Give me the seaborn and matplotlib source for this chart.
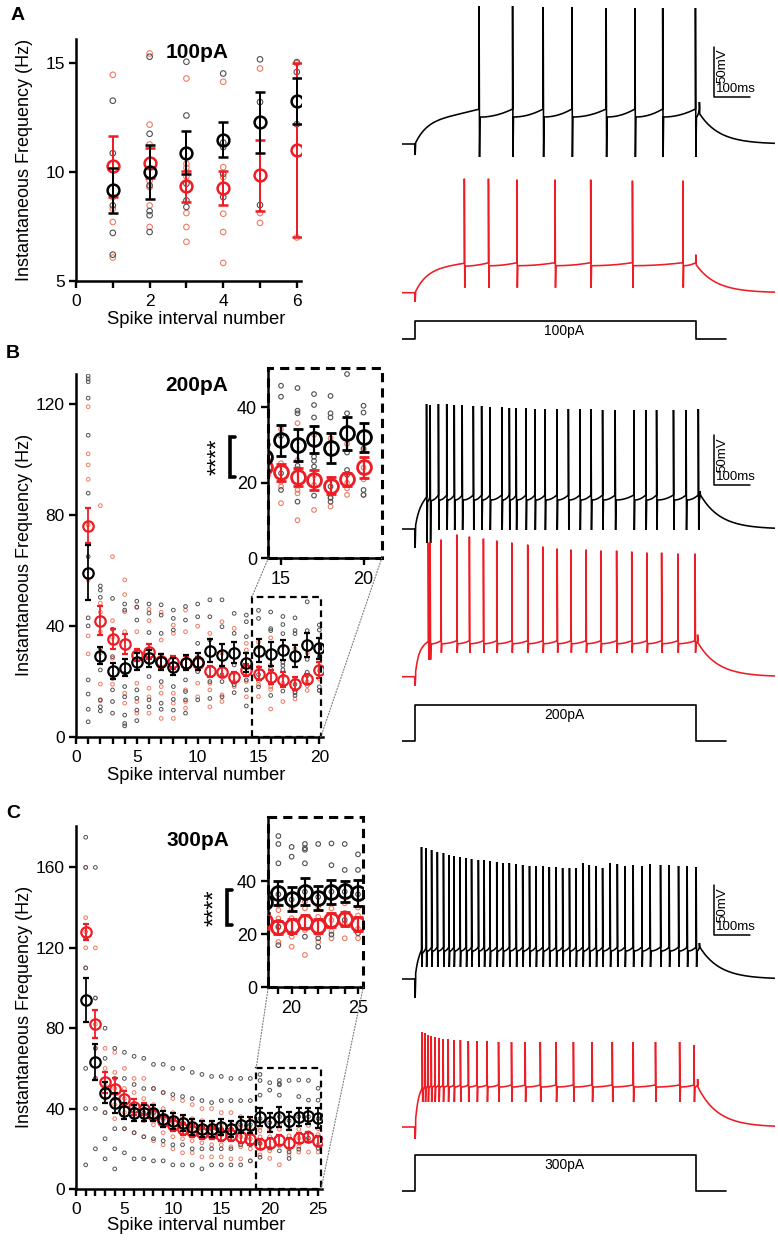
import numpy as np
import pandas as pd
import seaborn as sns
import matplotlib
matplotlib.use('Agg')
from matplotlib import pyplot as plt
from matplotlib.patches import Rectangle, ConnectionPatch
from matplotlib.lines import Line2D
from matplotlib.ticker import MultipleLocator

W, H = 778, 1240
RED = '#ee1c24'
DOT_GRAY = '#505050'
DOT_RED = '#f27a62'

# ---------------- panel A, 100pA ----------------
a_intervals = [1, 2, 3, 4, 5, 6]
a_ctrl_mean = [9.16, 10.0, 10.9, 11.48, 12.29, 13.25]
a_ctrl_sem = [1.03, 1.24, 1.0, 0.8, 1.4, 1.05]
a_ko_mean = [10.26, 10.43, 9.34, 9.28, 9.85, 11.0]
a_ko_sem = [1.42, 0.7, 0.7, 0.77, 1.63, 4.0]
a_ctrl_pts = [[13.28, 10.87, 8.47, 7.21, 6.21],
              [15.3, 11.76, 9.39, 8.21, 8.02, 7.25],
              [15.07, 12.6, 9.47, 8.7, 8.4],
              [14.53, 11.36, 11.15, 9.92, 8.85],
              [15.18, 13.22, 8.49],
              [15.05, 14.6, 12.2]]
a_ko_pts = [[14.47, 8.85, 8.32, 7.71, 6.08],
            [15.45, 12.18, 11.27, 9.6, 9.31, 8.47, 7.48],
            [14.3, 10.38, 10.2, 9.8, 8.12, 7.48, 6.8],
            [14.15, 10.23, 9.77, 8.09, 7.25, 5.83],
            [14.76, 8.12, 7.67],
            [15.0, 7.0]]

# ---------------- panel B, 200pA ----------------
b_intervals = list(range(1, 21))
b_ctrl_mean = [59.3, 29.4, 23.8, 25.0, 27.2, 28.4, 27.0, 25.4, 26.8, 27.2,
               31.2, 29.6, 30.4, 26.8, 31.2, 30.0, 31.5, 29.3, 33.1, 32.0]
b_ctrl_sem = [9.9, 3.2, 2.8, 3.0, 3.0, 3.0, 2.8, 3.0, 2.8, 3.0,
              4.0, 3.8, 3.8, 3.5, 4.2, 4.2, 3.6, 4.0, 4.4, 3.8]
b_ko_mean = [76.3, 42.0, 35.3, 33.5, 29.6, 30.8, 27.4, 27.0, 26.8, 26.6,
             23.8, 23.6, 21.5, 24.2, 22.8, 21.6, 20.7, 19.2, 20.9, 24.1]
b_ko_sem = [6.4, 5.1, 3.7, 3.6, 2.3, 2.8, 2.5, 2.4, 2.3, 2.3,
            2.0, 2.0, 2.0, 2.1, 2.3, 2.4, 2.6, 2.3, 1.8, 2.8]
b_ctrl_pts = [[130.3, 129.2, 128.2, 122.3, 108.9, 88.0, 65.1, 43.0, 40.1, 20.6, 15.5, 10.0, 5.5],
              [54.5, 53.0, 50.4, 32.0, 24.2, 13.4, 10.9, 9.4],
              [50.0, 38.9, 29.0, 21.2, 17.0, 12.8, 8.6],
              [48.0, 45.8, 23.0, 18.2, 14.5, 7.9, 4.9, 4.0],
              [49.0, 46.8, 42.2, 17.0, 14.0, 9.7, 5.9],
              [48.0, 44.7, 37.7, 21.8, 13.4, 10.9],
              [47.7, 44.0, 37.4, 20.0, 12.2, 10.0],
              [45.8, 42.8, 38.6, 18.2, 13.6, 9.7],
              [47.1, 42.2, 20.6, 16.4, 13.4, 8.6],
              [48.0, 43.4, 33.8, 23.6, 13.4],
              [49.5, 43.4, 35.0, 20.0, 13.9],
              [49.5, 39.8, 22.4, 20.0, 14.5],
              [44.6, 37.4, 26.0, 18.8, 16.0],
              [44.0, 41.6, 36.2, 20.6, 17.0, 11.2],
              [45.7, 42.8, 32.4, 22.5, 18.1],
              [45.1, 39.1, 38.4, 24.5, 23.6, 15.0],
              [43.5, 40.6, 37.3, 26.9, 25.8, 24.3, 16.6],
              [43.0, 38.4, 37.3, 19.0, 16.1, 15.0],
              [48.8, 38.4, 28.0, 23.4, 22.1],
              [40.4, 38.6, 29.1, 18.1, 16.8]]
b_ko_pts = [[119.2, 102.2, 98.2, 93.0, 76.5, 56.7, 36.5, 30.0],
            [83.5, 48.3, 45.0, 38.0, 30.3, 19.1, 13.1],
            [65.1, 42.0, 36.0, 28.4, 19.0],
            [56.7, 51.4, 45.2, 38.0, 15.8, 12.2],
            [47.0, 38.0, 19.4, 12.8, 8.6],
            [46.1, 42.0, 17.6, 14.5, 8.6],
            [45.0, 35.0, 18.2, 15.8, 6.7],
            [40.4, 37.4, 15.8, 12.2, 6.7],
            [45.8, 38.0, 17.0, 12.8, 10.4],
            [40.0, 29.0, 19.4, 14.5],
            [37.4, 19.4, 17.0, 10.9],
            [41.6, 30.2, 15.2, 12.8],
            [39.2, 23.0, 20.0, 18.2],
            [33.8, 31.4, 20.0, 14.5],
            [34.2, 25.2, 20.3, 19.0, 14.6],
            [35.8, 26.0, 18.1, 17.2, 10.1],
            [32.7, 22.0, 19.4, 12.8],
            [31.8, 21.0, 15.9, 13.7],
            [30.3, 20.0, 18.5, 16.8],
            [28.7, 24.0, 20.9, 16.8]]

# ---------------- panel C, 300pA ----------------
c_intervals = list(range(1, 26))
c_ctrl_mean = [94, 63, 48, 43, 39, 38, 38, 38, 35, 34, 33, 31, 30, 30, 31, 30, 32, 32,
               35.6, 33.1, 36.0, 33.7, 36.0, 36.2, 35.4]
c_ctrl_sem = [11, 9, 5, 5, 4, 4, 4, 4, 4, 4, 4, 4, 4, 4, 4, 4, 4, 4,
              4.5, 4.5, 5.0, 4.5, 4.5, 4.0, 5.0]
c_ko_mean = [128, 82, 53, 50, 45, 41, 40, 37, 34, 32, 30, 29, 28, 28, 27, 27, 26, 25,
             22.5, 23.0, 24.6, 23.0, 25.3, 25.7, 23.8]
c_ko_sem = [4, 7, 5, 5, 4, 4, 3, 3, 3, 3, 3, 3, 3, 3, 3, 3, 3, 3,
            2.5, 2.5, 2.5, 2.5, 2.5, 2.5, 2.5]
c_ctrl_pts = [[175, 160, 125, 110, 60, 40, 12],
              [160, 95, 70, 55, 40, 20],
              [80, 65, 50, 38, 25, 15],
              [70, 55, 45, 30, 20, 10],
              [68, 55, 42, 30, 18],
              [66, 52, 40, 28, 15],
              [65, 50, 38, 26, 15],
              [62, 50, 38, 25, 14],
              [62, 48, 35, 24, 14],
              [60, 47, 34, 22, 12],
              [60, 46, 33, 22, 12],
              [58, 45, 31, 20, 12],
              [57, 44, 30, 20, 10],
              [56, 43, 30, 20, 12],
              [56, 44, 30, 20, 12],
              [55, 44, 30, 20, 12],
              [55, 44, 32, 22, 12],
              [55, 44, 32, 22, 14],
              [57.0, 54.0, 46.7, 35.0, 22.8, 15.8],
              [52.9, 49.2, 33.0, 20.3],
              [54.0, 52.4, 51.8, 46.7, 36.0, 19.0],
              [54.0, 34.0, 18.4, 15.2],
              [54.2, 46.0, 36.0, 19.8],
              [54.0, 44.2, 36.0, 25.3],
              [50.1, 44.2, 35.0, 20.3]]
c_ko_pts = [[160, 135, 128, 120, 110],
            [120, 95, 82, 70, 55],
            [70, 60, 52, 45, 38],
            [68, 58, 50, 42, 35],
            [60, 50, 45, 38, 30],
            [55, 48, 41, 35, 28],
            [55, 45, 40, 34, 26],
            [50, 42, 37, 32, 24],
            [48, 40, 34, 28, 22],
            [45, 38, 32, 26, 20],
            [44, 36, 30, 25, 18],
            [42, 35, 29, 24, 18],
            [40, 34, 28, 23, 16],
            [40, 33, 28, 22, 16],
            [38, 32, 27, 22, 16],
            [38, 32, 27, 21, 15],
            [36, 31, 26, 21, 15],
            [35, 30, 25, 20, 14],
            [30.9, 29.0, 25.9, 22.5, 17.0],
            [29.7, 26.0, 19.0, 15.2],
            [32.2, 29.7, 21.5, 12.1],
            [30.3, 26.5, 19.8, 17.0],
            [29.7, 25.3, 18.4, 21.0],
            [31.6, 28.0, 18.4, 24.0],
            [30.0, 27.0, 18.4, 22.0]]

# ---------------- example traces (ms, mV) ----------------
a_ctrl_spikes = [178, 271, 356, 436, 531, 611, 688, 779]
a_ctrl_peaks = [68, 68, 67, 67, 66, 66, 66, 66]
a_ko_spikes = [137, 204, 283, 389, 488, 604, 744]
a_ko_peaks = [44, 44, 43, 43, 43, 42, 42]
b_ctrl_spikes = [32, 42, 65, 88, 109, 131, 162, 185, 208, 241, 262, 281, 308, 333,
                 361, 394, 426, 458, 489, 521, 556, 608, 641, 671, 718, 753, 787]
b_ctrl_peaks = [55, 54, 55, 55, 54, 54, 53, 53, 52, 52, 51, 51, 51, 50,
                50, 50, 50, 50, 50, 49, 49, 49, 49, 49, 49, 49, 50]
b_ko_spikes = [37, 42, 72, 116, 151, 190, 227, 269, 313, 355, 395, 433, 475, 516,
               560, 602, 644, 685, 730, 778]
b_ko_peaks = [64, 64, 67, 72, 70, 68, 66, 64, 62, 60, 58, 57, 57, 56, 56, 55, 54, 54, 53, 53]
c_ctrl_spikes = [18, 31, 46, 62, 79, 94, 108, 125, 142, 157, 176, 192, 208, 227, 244,
                 262, 281, 299, 318, 336, 355, 373, 392, 410, 429, 447, 466, 484, 503,
                 521, 542, 562, 583, 606, 630, 653, 682, 706, 732, 756, 781]
c_ctrl_peaks = [62, 61, 59, 57, 56, 54, 53, 52, 51, 50, 49, 49, 48, 47, 46, 46, 45, 44,
                43, 43, 43, 42, 42, 41, 41, 41, 46, 44, 43, 41, 46, 45, 43, 44, 43, 45,
                44, 44, 43, 43, 42]
c_ko_spikes = [20, 28, 36, 45, 55, 66, 78, 92, 108, 126, 148, 172, 200, 232, 268, 306,
               348, 392, 440, 492, 548, 606, 668, 735, 775]
c_ko_peaks = [25, 24, 22, 21, 20, 19, 18, 18, 17, 17, 16, 16, 16, 15, 15, 15,
              15, 15, 15, 15, 15, 15, 15, 15, 12]

stim_labels = ['100pA', '200pA', '300pA']


def px_axes(fig, left, top, right, bottom):
    return fig.add_axes([left / W, 1 - bottom / H, (right - left) / W, (bottom - top) / H])


def style_axes(ax, xticks, yticks, fs=12.5):
    sns.despine(ax=ax)
    for s in ['left', 'bottom']:
        ax.spines[s].set_linewidth(1.8)
        ax.spines[s].set_color('black')
    ax.set_xticks(xticks)
    ax.set_yticks(yticks)
    ax.xaxis.set_minor_locator(MultipleLocator(1))
    ax.tick_params(which='both', direction='out', width=1.7, length=5, color='black',
                   labelsize=fs, labelcolor='black')
    ax.tick_params(axis='x', which='both', pad=4.5)
    ax.tick_params(axis='y', which='both', pad=3)
    ax.set_xlabel('')
    ax.set_ylabel('')


def points_frame(intervals, pts):
    rows = []
    for n, vals in zip(intervals, pts):
        for v in vals:
            rows.append((n, v))
    return pd.DataFrame(rows, columns=['interval', 'freq'])


def freq_plot(ax, intervals, ctrl_m, ctrl_s, ko_m, ko_s, ctrl_pts, ko_pts,
              dot_s, dot_lw, ms, mew, cap):
    ko_df = points_frame(intervals, ko_pts)
    ctrl_df = points_frame(intervals, ctrl_pts)
    sns.scatterplot(data=ko_df, x='interval', y='freq', ax=ax, s=dot_s, marker='o',
                    facecolor='none', edgecolor=DOT_RED, linewidth=dot_lw, zorder=2, legend=False)
    sns.scatterplot(data=ctrl_df, x='interval', y='freq', ax=ax, s=dot_s, marker='o',
                    facecolor='none', edgecolor=DOT_GRAY, linewidth=dot_lw, zorder=2, legend=False)
    ax.errorbar(intervals, ko_m, yerr=ko_s, fmt='o', ms=ms, mfc='none', mec=RED, mew=mew,
                ecolor=RED, elinewidth=mew * 0.8, capsize=cap, capthick=mew * 0.8, zorder=3)
    ax.errorbar(intervals, ctrl_m, yerr=ctrl_s, fmt='o', ms=ms, mfc='none', mec='black', mew=mew,
                ecolor='black', elinewidth=mew * 0.8, capsize=cap, capthick=mew * 0.8, zorder=4)


def trace_xy(spikes, peaks, rest, plateau, ramp, trough, dip, t_off, v_end, bump,
             tau_on=30.0, tau_off=55.0, t_start=-37.0, t_stop=1000.0):
    troughs = np.broadcast_to(np.asarray(trough, dtype=float), (len(spikes),))
    t = [t_start, 0.0, 0.4, 1.8]
    v = [rest, rest, dip, rest]

    def v_on(x):
        return rest + (plateau - rest) * (1 - np.exp(-x / tau_on))

    edges = [1.8] + list(spikes) + [t_off]
    for i in range(len(edges) - 1):
        a = edges[i] + (2.5 if i else 0.0)
        b = edges[i + 1]
        seg = np.linspace(a, b, 30)
        frac = (seg - a) / max(b - a, 1e-6)
        t.extend(seg)
        v.extend(v_on(seg) + ramp * frac ** 2)
        if i < len(spikes):
            t.extend([b, b + 1.2])
            v.extend([peaks[i], troughs[i]])
    t.extend([t_off, t_off + 1.0])
    v.extend([v_end + bump, v_end])
    seg = np.linspace(t_off + 1.0, t_stop, 80)
    t.extend(seg)
    v.extend(rest + (v_end - rest) * np.exp(-(seg - t_off - 1.0) / tau_off))
    return np.array(t), np.array(v)


def trace_axes(fig, rest_px):
    ax = px_axes(fig, 401.7, rest_px - 150, 775, rest_px + 25)
    ax.set_xlim(-37, 1000)
    ax.set_ylim(-95, 80)
    ax.axis('off')
    ax.patch.set_alpha(0)
    return ax


def draw_trace(fig, rest_px, color, **kw):
    ax = trace_axes(fig, rest_px)
    t, v = trace_xy(**kw)
    ax.plot(t, v, color=color, lw=1.15, solid_joinstyle='miter')
    return ax


def scale_bar(ax, t0, v0):
    ax.plot([t0, t0, t0 + 100], [v0 + 50, v0, v0], color='black', lw=1.1, clip_on=False)
    ax.text(t0 + 6, v0 + 48, '50mV', rotation=90, ha='left', va='top', fontsize=9.5)
    ax.text(t0 + 6, v0 + 2, '100ms', ha='left', va='bottom', fontsize=9.5)


def stim_axes(fig, top_px, base_px, label):
    amp = 1.0
    span = base_px - top_px
    ax = px_axes(fig, 401.7, top_px - 8, 775, base_px + 8)
    ax.set_xlim(-37, 1000)
    ax.set_ylim(-8 / span, 1 + 8 / span)
    ax.axis('off')
    ax.patch.set_alpha(0)
    ax.plot([-37, 0, 0, 780, 780, 863], [0, 0, amp, amp, 0, 0], color='black', lw=1.2)
    ax.text(415, amp - 3 / span, label, ha='center', va='top', fontsize=10)


def inset_frame(ax):
    ax.add_patch(Rectangle((0, 0), 1, 1, transform=ax.transAxes, fill=False, ec='black',
                           lw=2.2, ls=(0, (3, 2)), clip_on=False, zorder=5))


def stars(fig, x_px, y0_px, y1_px):
    fig.text(x_px / W, 1 - (y0_px + y1_px) / 2 / H, '****', rotation=90, ha='center',
             va='center', fontsize=17)
    bx = x_px + 12
    xs = [bx + 5, bx, bx, bx + 5]
    ys = [y0_px, y0_px, y1_px, y1_px]
    fig.add_artist(Line2D([x / W for x in xs], [1 - y / H for y in ys], color='black',
                          lw=2.6, transform=fig.transFigure, solid_joinstyle='miter'))


sns.set_theme(style='ticks')
plt.rcParams['font.family'] = ['Liberation Sans', 'DejaVu Sans']
plt.rcParams['axes.facecolor'] = 'white'
plt.rcParams['text.color'] = 'black'
plt.rcParams['axes.labelcolor'] = 'black'
plt.rcParams['xtick.color'] = 'black'
plt.rcParams['ytick.color'] = 'black'

fig = plt.figure(figsize=(W / 100, H / 100), dpi=100)
fig.patch.set_facecolor('white')

# ---- A ----
axA = px_axes(fig, 76, 39.3, 300.5, 281)
freq_plot(axA, a_intervals, a_ctrl_mean, a_ctrl_sem, a_ko_mean, a_ko_sem,
          a_ctrl_pts, a_ko_pts, dot_s=16, dot_lw=0.8, ms=8.5, mew=1.8, cap=3.5)
axA.set_xlim(0, 6.1)
axA.set_ylim(5, 16.1)
style_axes(axA, [0, 2, 4, 6], [5, 10, 15])
fig.text(197 / W, 1 - 53 / H, '100pA', ha='center', va='center', fontsize=15, fontweight='bold')
fig.text(25 / W, 1 - 160 / H, 'Instantaneous Frequency (Hz)', rotation=90, ha='center',
         va='center', fontsize=13)
fig.text(196 / W, 1 - 320 / H, 'Spike interval number', ha='center', va='center', fontsize=13.3)
fig.text(18 / W, 1 - 15 / H, 'A', ha='center', va='center', fontsize=14, fontweight='bold')

# ---- B ----
axB = px_axes(fig, 76, 374, 323, 737)
freq_plot(axB, b_intervals, b_ctrl_mean, b_ctrl_sem, b_ko_mean, b_ko_sem,
          b_ctrl_pts, b_ko_pts, dot_s=7, dot_lw=0.7, ms=7.5, mew=1.6, cap=2.5)
axB.set_xlim(0, 20.3)
axB.set_ylim(0, 131)
style_axes(axB, [0, 5, 10, 15, 20], [0, 40, 80, 120])
axB.add_patch(Rectangle((14.45, 0), 20.12 - 14.45, 50.5, fill=False, ec='black', lw=1.6,
                        ls=(0, (3, 2)), zorder=5, clip_on=False))
fig.text(197 / W, 1 - 385 / H, '200pA', ha='center', va='center', fontsize=15, fontweight='bold')
fig.text(25 / W, 1 - 555 / H, 'Instantaneous Frequency (Hz)', rotation=90, ha='center',
         va='center', fontsize=13)
fig.text(196 / W, 1 - 775 / H, 'Spike interval number', ha='center', va='center', fontsize=13.3)
fig.text(13 / W, 1 - 353 / H, 'B', ha='center', va='center', fontsize=14, fontweight='bold')

axBi = px_axes(fig, 268.3, 368, 381.7, 558.3)
freq_plot(axBi, b_intervals, b_ctrl_mean, b_ctrl_sem, b_ko_mean, b_ko_sem,
          b_ctrl_pts, b_ko_pts, dot_s=11, dot_lw=0.8, ms=10, mew=2.0, cap=3.5)
axBi.set_xlim(14.23, 21.1)
axBi.set_ylim(0, 50.4)
style_axes(axBi, [15, 20], [0, 20, 40], fs=13)
axBi.xaxis.set_minor_locator(MultipleLocator(5))
inset_frame(axBi)
for xa, ya, xb, yb in [(14.45, 50.5, 0, 0), (20.12, 0, 1, 0)]:
    fig.add_artist(ConnectionPatch(xyA=(xa, ya), coordsA=axB.transData, xyB=(xb, yb),
                                   coordsB=axBi.transAxes, color='#777777', lw=0.8, ls=':'))
stars(fig, 218, 437, 477)

# ---- C ----
axC = px_axes(fig, 76, 826, 322, 1189)
freq_plot(axC, c_intervals, c_ctrl_mean, c_ctrl_sem, c_ko_mean, c_ko_sem,
          c_ctrl_pts, c_ko_pts, dot_s=7, dot_lw=0.7, ms=7.5, mew=1.6, cap=2.5)
axC.set_xlim(0, 25.4)
axC.set_ylim(0, 180.6)
style_axes(axC, [0, 5, 10, 15, 20, 25], [0, 40, 80, 120, 160])
axC.add_patch(Rectangle((18.6, 0), 25.3 - 18.6, 60, fill=False, ec='black', lw=1.6,
                        ls=(0, (3, 2)), zorder=5, clip_on=False))
fig.text(198 / W, 1 - 840 / H, '300pA', ha='center', va='center', fontsize=15, fontweight='bold')
fig.text(25 / W, 1 - 1007 / H, 'Instantaneous Frequency (Hz)', rotation=90, ha='center',
         va='center', fontsize=13)
fig.text(196 / W, 1 - 1226 / H, 'Spike interval number', ha='center', va='center', fontsize=13.3)
fig.text(13 / W, 1 - 813 / H, 'C', ha='center', va='center', fontsize=14, fontweight='bold')

axCi = px_axes(fig, 268.3, 816.7, 363.3, 987)
freq_plot(axCi, c_intervals, c_ctrl_mean, c_ctrl_sem, c_ko_mean, c_ko_sem,
          c_ctrl_pts, c_ko_pts, dot_s=11, dot_lw=0.8, ms=10, mew=2.0, cap=3.5)
axCi.set_xlim(18.24, 25.4)
axCi.set_ylim(0, 64.3)
style_axes(axCi, [20, 25], [0, 20, 40], fs=13)
axCi.xaxis.set_minor_locator(MultipleLocator(1))
inset_frame(axCi)
for xa, ya, xb, yb in [(18.6, 60, 0, 0), (25.3, 0, 1, 0)]:
    fig.add_artist(ConnectionPatch(xyA=(xa, ya), coordsA=axC.transData, xyB=(xb, yb),
                                   coordsB=axCi.transAxes, color='#777777', lw=0.8, ls=':'))
stars(fig, 215, 890, 925)

# ---- traces ----
axTa = draw_trace(fig, 144, 'black', spikes=a_ctrl_spikes, peaks=a_ctrl_peaks, rest=-70,
                  plateau=-43, ramp=8, trough=-83, dip=-81, t_off=790, v_end=-40, bump=12,
                  tau_on=35)
scale_bar(axTa, 831, -22.7)
draw_trace(fig, 292.7, RED, spikes=a_ko_spikes, peaks=a_ko_peaks, rest=-70, plateau=-43,
           ramp=3, trough=-65, dip=-79, t_off=780, v_end=-42, bump=10, tau_on=35)
stim_axes(fig, 321, 339.3, stim_labels[0])

axTb = draw_trace(fig, 529, 'black', spikes=b_ctrl_spikes, peaks=b_ctrl_peaks, rest=-70,
                  plateau=-41, ramp=5, trough=[-84, -84] + [-71] * 25, dip=-89, t_off=792,
                  v_end=-36, bump=4, tau_on=12)
scale_bar(axTb, 831, -26)
draw_trace(fig, 676.7, RED, spikes=b_ko_spikes, peaks=b_ko_peaks, rest=-70, plateau=-37,
           ramp=3, trough=[-53, -53] + [-46] * 18, dip=-79, t_off=785, v_end=-36, bump=8,
           tau_on=10)
stim_axes(fig, 705, 740.7, stim_labels[1])

axTc = draw_trace(fig, 979, 'black', spikes=c_ctrl_spikes, peaks=c_ctrl_peaks, rest=-70,
                  plateau=-42, ramp=4, trough=-58, dip=-89, t_off=790, v_end=-38, bump=4,
                  tau_on=8)
scale_bar(axTc, 831, -26)
draw_trace(fig, 1127, RED, spikes=c_ko_spikes, peaks=c_ko_peaks, rest=-70, plateau=-30,
           ramp=2, trough=-45, dip=-82, t_off=785, v_end=-30, bump=8, tau_on=8)
stim_axes(fig, 1155, 1191, stim_labels[2])

fig.savefig('out.png', dpi=100, facecolor='white')
